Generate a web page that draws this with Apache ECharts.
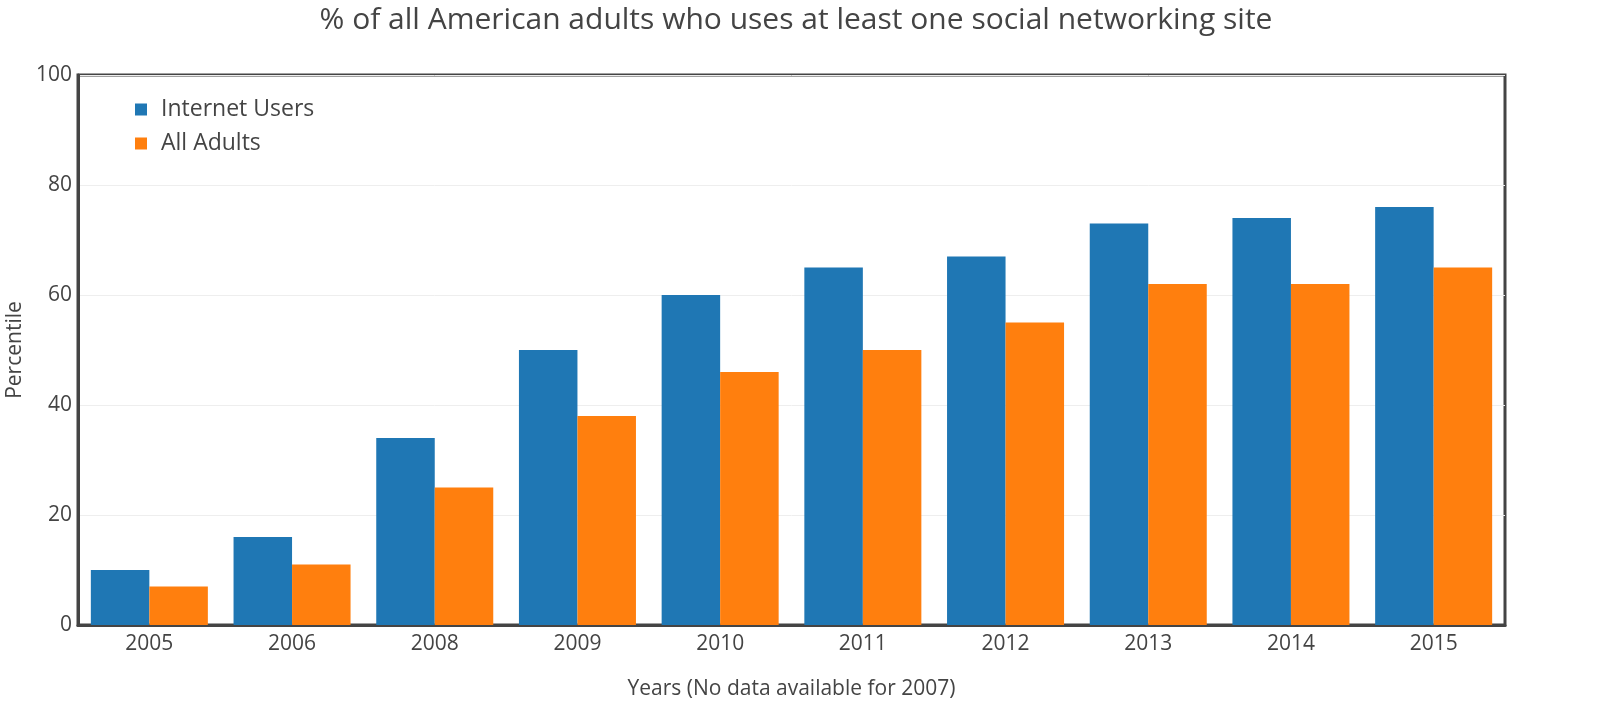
<!DOCTYPE html>
<html>
<head>
<meta charset="utf-8">
<script src="https://cdn.jsdelivr.net/npm/echarts@6/dist/echarts.min.js"></script>
<style>
  html, body { margin: 0; padding: 0; background: #fff; }
  #chart { width: 1606px; height: 718px; }
</style>
</head>
<body>
<div id="chart"></div>
<script>
var years = ['2005', '2006', '2008', '2009', '2010', '2011', '2012', '2013', '2014', '2015'];
var internetUsers = [10, 16, 34, 50, 60, 65, 67, 73, 74, 76];
var allAdults = [7, 11, 25, 38, 46, 50, 55, 62, 62, 65];

var myChart = echarts.init(document.getElementById('chart'));
var font = '"Open Sans", "Noto Sans", sans-serif';

var option = {
  animation: false,
  textStyle: { fontFamily: font, color: '#444' },
  title: {
    text: '% of all American adults who uses at least one social networking site',
    left: 791,
    textAlign: 'center',
    top: 0,
    textStyle: { fontFamily: font, fontSize: 30, fontWeight: 'normal', color: '#444' }
  },
  legend: {
    orient: 'vertical',
    left: 130,
    top: 93,
    itemWidth: 12,
    itemHeight: 12,
    itemGap: 11,
    icon: 'rect',
    textStyle: { fontFamily: font, fontSize: 23, color: '#444', padding: [0, 0, 0, 9] },
    data: ['Internet Users', 'All Adults']
  },
  grid: {
    left: 78,
    right: 101,
    top: 75,
    bottom: 93,
    show: true,
    borderColor: '#444',
    borderWidth: 3,
    containLabel: false,
    outerBoundsMode: 'none'
  },
  xAxis: {
    type: 'category',
    data: years,
    name: 'Years (No data available for 2007)',
    nameLocation: 'middle',
    nameGap: 54,
    nameTextStyle: { fontFamily: font, fontSize: 21, color: '#444' },
    axisLine: { lineStyle: { color: '#444', width: 3 } },
    axisTick: { show: false },
    axisLabel: { fontFamily: font, fontSize: 21, color: '#444', margin: 9 }
  },
  yAxis: {
    type: 'value',
    min: 0,
    max: 100,
    interval: 20,
    name: 'Percentile',
    nameLocation: 'middle',
    nameGap: 34,
    nameTextStyle: { fontFamily: font, fontSize: 21, color: '#444' },
    axisLine: { show: true, lineStyle: { color: '#444', width: 3 } },
    axisTick: { show: false },
    axisLabel: { fontFamily: font, fontSize: 21, color: '#444', margin: 6 },
    splitLine: { lineStyle: { color: '#eee', width: 1 } }
  },
  series: [
    {
      name: 'Internet Users',
      type: 'bar',
      data: internetUsers,
      barGap: '0%',
      barCategoryGap: '18%',
      itemStyle: { color: '#1f77b4' }
    },
    {
      name: 'All Adults',
      type: 'bar',
      data: allAdults,
      itemStyle: { color: '#ff7f0e' }
    }
  ]
};

myChart.setOption(option);
window.addEventListener('resize', function() {
  myChart.resize();
});
</script>
</body>
</html>
